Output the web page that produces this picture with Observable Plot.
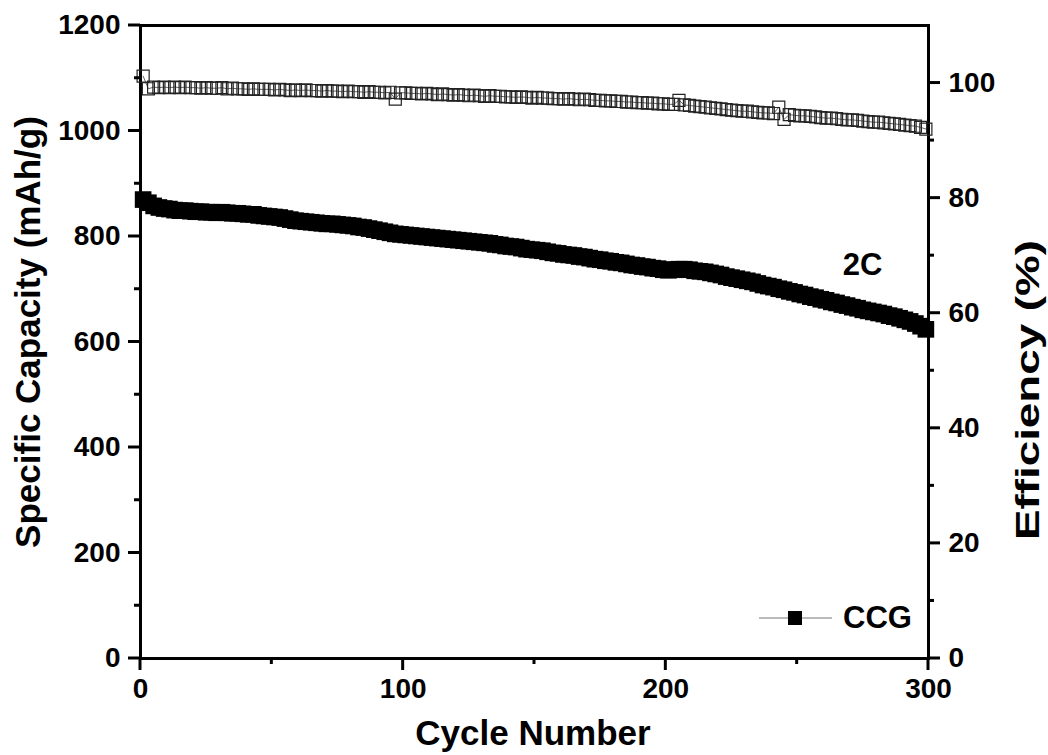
<!DOCTYPE html>
<html><head><meta charset="utf-8">
<script src="https://cdn.jsdelivr.net/npm/d3@7"></script>
<script src="https://cdn.jsdelivr.net/npm/@observablehq/plot@0.6"></script>
<style>
html,body{margin:0;padding:0;background:#fff;}
#wrap{position:relative;width:1048px;height:755px;}
#wrap svg{position:absolute;left:0;top:0;}
</style></head><body><div id="wrap"></div>
<script>
const cycles = [
1,3,5,7,9,11,13,15,17,19,21,23,25,27,29,31,33,35,37,39,
41,43,45,47,49,51,53,55,57,59,61,63,65,67,69,71,73,75,77,79,
81,83,85,87,89,91,93,95,97,99,101,103,105,107,109,111,113,115,117,119,
121,123,125,127,129,131,133,135,137,139,141,143,145,147,149,151,153,155,157,159,
161,163,165,167,169,171,173,175,177,179,181,183,185,187,189,191,193,195,197,199,
201,203,205,207,209,211,213,215,217,219,221,223,225,227,229,231,233,235,237,239,
241,243,245,247,249,251,253,255,257,259,261,263,265,267,269,271,273,275,277,279,
281,283,285,287,289,291,293,295,297,299];
const capacity = [
870,864,858,855,853,852,850,849,849,848,847,847,846,846,845,846,845,844,844,843,
842,842,840,839,838,837,836,834,832,830,829,828,827,826,825,824,824,823,822,821,
820,818,817,815,813,811,809,807,805,804,803,802,801,800,799,798,797,796,795,794,
793,792,791,790,789,788,787,785,784,782,781,780,778,776,775,774,773,771,769,768,
766,765,764,762,761,759,757,756,754,753,751,750,748,746,745,743,742,740,739,737,
736,737,738,738,737,735,734,733,731,729,727,724,722,720,718,716,714,711,708,706,
704,701,699,696,694,691,689,686,684,681,679,676,674,671,669,666,664,661,659,657,
655,653,650,648,645,642,639,635,630,624];
const efficiency = [
101.2,99.0,99.3,99.2,99.3,99.2,99.3,99.2,99.3,99.2,99.2,99.1,99.2,99.1,99.1,99.2,99.0,99.1,99.0,99.0,
98.9,99.0,98.9,98.9,98.9,98.8,98.9,98.8,98.7,98.8,98.7,98.8,98.7,98.7,98.6,98.7,98.6,98.6,98.5,98.6,
98.5,98.5,98.4,98.5,98.4,98.4,98.3,98.4,97.2,98.3,98.3,98.2,98.2,98.1,98.2,98.1,98.0,98.1,98.0,97.9,
98.0,97.9,97.8,97.9,97.8,97.7,97.8,97.7,97.7,97.6,97.6,97.5,97.6,97.5,97.4,97.5,97.4,97.4,97.3,97.3,
97.2,97.3,97.2,97.1,97.2,97.1,97.0,97.0,96.9,96.9,96.8,96.8,96.7,96.7,96.6,96.6,96.5,96.5,96.4,96.4,
96.3,96.3,97.0,96.2,96.1,96.0,95.9,95.8,95.7,95.6,95.5,95.4,95.3,95.2,95.1,95.1,95.0,94.9,94.8,94.8,
94.7,95.8,93.7,94.5,94.4,94.3,94.3,94.2,94.1,94.0,93.9,93.9,93.8,93.7,93.6,93.6,93.5,93.4,93.3,93.2,
93.2,93.1,93.0,92.9,92.8,92.7,92.6,92.5,92.3,92.0];
const capTicks = [0,200,400,600,800,1000,1200];
const capMinor = [100,300,500,700,900,1100];
const effTicks = [0,20,40,60,80,100];
const effMinor = [10,30,50,70,90];
const xTicks = [0,100,200,300];
const xMinor = [50,150,250];
const titles = {x:"Cycle Number", yLeft:"Specific Capacity (mAh/g)", yRight:"Efficiency (%)"};
const rateLabel = ["2C"];
const legendLabel = "CCG";

const FONT = "'Liberation Sans', Arial, Helvetica, sans-serif";
const W = 1048, H = 755;
const M = {marginTop:25, marginRight:120, marginBottom:97, marginLeft:140};
const capData = cycles.map((c,i)=>({cycle:c, value:capacity[i]}));
const effData = cycles.map((c,i)=>({cycle:c, value:efficiency[i]}));
const style = {fontFamily:FONT, fontSize:"28px", fontWeight:"bold", color:"#000", background:"none", overflow:"visible"};
const plain = d => `${d}`;
const MAJOR = 12, MINOR = 6, TW = 3;

const p1 = Plot.plot({
  width:W, height:H, ...M, style,
  x:{domain:[0,300]}, y:{domain:[0,1200]},
  marks:[
    Plot.axisY(capTicks,{tickSize:0, tickPadding:MAJOR+8, tickFormat:plain, label:null, fontSize:28, fontWeight:"bold"}),
    Plot.axisX(xTicks,{tickSize:0, tickPadding:MAJOR+8, tickFormat:plain, label:null, fontSize:28, fontWeight:"bold"}),
    Plot.line(capData,{x:"cycle", y:"value", stroke:"#000", strokeWidth:1}),
    Plot.dot(capData,{x:"cycle", y:"value", symbol:"square", r:9.4, fill:"#000", stroke:"none"}),
    Plot.text(rateLabel,{frameAnchor:"top-right", dx:-46, dy:240, textAnchor:"end", lineAnchor:"middle", fontSize:31, fontWeight:"bold", fill:"#000"}),
    Plot.frame({stroke:"#000", strokeWidth:3})
  ]
});

const p2 = Plot.plot({
  width:W, height:H, ...M, style,
  x:{domain:[0,300], axis:null}, y:{domain:[0,110]},
  marks:[
    Plot.axisY(effTicks,{anchor:"right", tickSize:0, tickPadding:MAJOR+8, tickFormat:plain, label:null, fontSize:28, fontWeight:"bold"}),
    Plot.line(effData,{x:"cycle", y:"value", stroke:"#666", strokeWidth:1}),
    Plot.dot(effData,{x:"cycle", y:"value", symbol:"square", r:6.8, fill:"none", stroke:"#222", strokeWidth:1.2})
  ]
});

const wrap = document.getElementById("wrap");
wrap.appendChild(p1);
wrap.appendChild(p2);

// tick marks drawn through the plots' own scales
const xs = p1.scale("x"), yCap = p1.scale("y"), yEff = p2.scale("y");
const L = M.marginLeft, R = W - M.marginRight, B = H - M.marginBottom;
const svg = d3.select(wrap).append("svg").attr("width",W).attr("height",H)
  .style("font-family",FONT).style("font-weight","bold").attr("fill","#000");
const tk = svg.append("g").attr("stroke","#000").attr("stroke-width",TW);
const hTick = (y, x0, x1) => tk.append("line").attr("x1",x0).attr("x2",x1).attr("y1",y).attr("y2",y);
const vTick = (x, y0, y1) => tk.append("line").attr("x1",x).attr("x2",x).attr("y1",y0).attr("y2",y1);
capTicks.forEach(v => hTick(yCap.apply(v), L - MAJOR, L));
capMinor.forEach(v => hTick(yCap.apply(v), L - MINOR, L));
effTicks.forEach(v => hTick(yEff.apply(v), R, R + MAJOR));
effMinor.forEach(v => hTick(yEff.apply(v), R, R + MINOR));
xTicks.forEach(v => vTick(xs.apply(v), B, B + MAJOR));
xMinor.forEach(v => vTick(xs.apply(v), B, B + MINOR));

// titles and legend
svg.append("text").attr("x",533).attr("y",745).attr("text-anchor","middle")
  .attr("font-size",35).text(titles.x);
svg.append("text").attr("transform","translate(40,332) rotate(-90)").attr("text-anchor","middle")
  .attr("font-size",35).text(titles.yLeft);
svg.append("text").attr("transform","translate(1039,390) rotate(-90)").attr("text-anchor","middle")
  .attr("font-size",34).attr("textLength",300).attr("lengthAdjust","spacingAndGlyphs").text(titles.yRight);
const lg = svg.append("g");
lg.append("line").attr("x1",759).attr("x2",832).attr("y1",618).attr("y2",618).attr("stroke","#777").attr("stroke-width",1);
lg.append("rect").attr("x",788).attr("y",611).attr("width",14).attr("height",14).attr("fill","#000");
lg.append("text").attr("x",843).attr("y",628).attr("font-size",31).text(legendLabel);
</script>
</body></html>
